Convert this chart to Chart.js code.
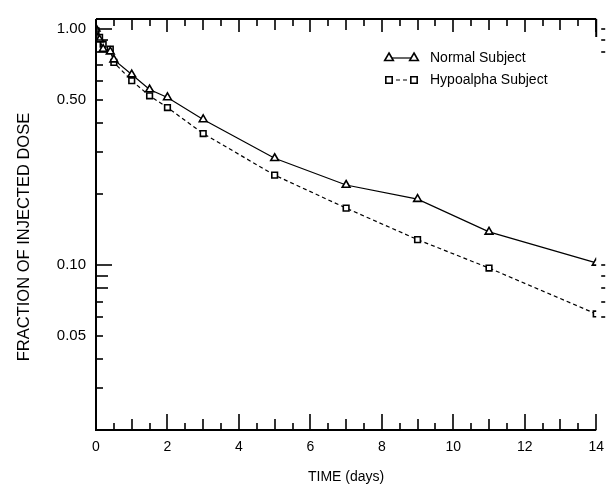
<!DOCTYPE html>
<html>
<head>
<meta charset="utf-8">
<script src="https://cdn.jsdelivr.net/npm/chart.js@4.4.1/dist/chart.umd.min.js"></script>
<style>
  html, body { margin: 0; padding: 0; background: #fff; }
  #wrap { width: 613px; height: 490px; position: relative; }
</style>
</head>
<body>
<div id="wrap"><canvas id="c" width="613" height="490"></canvas></div>
<script>
// ---- data ----
const timeDays = [0, 0.1, 0.2, 0.4, 0.5, 1, 1.5, 2, 3, 5, 7, 9, 11, 14];
const normalSubject = [1.0, 0.9, 0.82, 0.8, 0.74, 0.64, 0.553, 0.512, 0.413, 0.283, 0.218, 0.19, 0.138, 0.102];
const hypoalphaSubject = [0.98, 0.92, 0.86, 0.82, 0.72, 0.603, 0.52, 0.464, 0.36, 0.24, 0.174, 0.128, 0.097, 0.062];
const seriesNames = ['Normal Subject', 'Hypoalpha Subject'];
const yTickLabels = [1.0, 0.5, 0.1, 0.05];
const xTickLabels = [0, 2, 4, 6, 8, 10, 12, 14];
const yMinorTicks = [0.02, 0.03, 0.04, 0.05, 0.06, 0.07, 0.08, 0.09, 0.1, 0.2, 0.3, 0.4, 0.5, 0.6, 0.7, 0.8, 0.9, 1.0];
const xMinorStep = 0.5;
const yTitle = 'FRACTION OF INJECTED DOSE';
const xTitle = 'TIME (days)';

const FONT = "'Liberation Sans', Arial, Helvetica, sans-serif";

const toPts = (vals) => vals.map((v, i) => ({ x: timeDays[i], y: v }));

const frameTicks = {
  id: 'frameTicks',
  afterDraw(chart) {
    const { ctx, chartArea: a, scales } = chart;
    const xs = scales.x, ys = scales.y;
    ctx.save();
    ctx.strokeStyle = '#000';
    ctx.lineCap = 'butt';
    // frame: left, bottom, top
    ctx.lineWidth = 2;
    ctx.beginPath();
    ctx.moveTo(a.left, a.top); ctx.lineTo(a.right, a.top);
    ctx.moveTo(a.left, a.top); ctx.lineTo(a.left, a.bottom);
    ctx.lineTo(a.right, a.bottom);
    ctx.stroke();
    // short right border piece near the top
    ctx.beginPath(); ctx.moveTo(a.right, a.top); ctx.lineTo(a.right, a.top + 18); ctx.stroke();
    // x ticks (bottom and top), inward
    ctx.lineWidth = 1.6;
    for (let t = xMinorStep; t <= 14.001; t += xMinorStep) {
      const px = Math.round(xs.getPixelForValue(t));
      let len = 7;
      if (Math.abs(t - Math.round(t)) < 1e-6) len = (Math.round(t) % 2 === 0) ? 16 : 11;
      ctx.beginPath();
      ctx.moveTo(px, a.bottom); ctx.lineTo(px, a.bottom - len);
      ctx.moveTo(px, a.top); ctx.lineTo(px, a.top + Math.min(len, 13));
      ctx.stroke();
    }
    // y ticks (left, inward; right, short outside dashes)
    yMinorTicks.forEach(v => {
      const py = Math.round(ys.getPixelForValue(v));
      let len = 7;
      if (Math.abs(v - 0.1) < 1e-9 || Math.abs(v - 1) < 1e-9) len = 16;
      else if (v === 0.09 || v === 0.08 || v === 0.9 || v === 0.8) len = 12;
      ctx.beginPath();
      ctx.moveTo(a.left, py); ctx.lineTo(a.left + len, py);
      ctx.stroke();
      if ((v >= 0.06 && v <= 0.1) || v >= 0.8) {
        ctx.beginPath();
        ctx.moveTo(a.right + 5, py); ctx.lineTo(a.right + 9, py);
        ctx.stroke();
      }
    });
    // y title
    ctx.fillStyle = '#000';
    ctx.font = '16.5px ' + FONT;
    ctx.textAlign = 'center';
    ctx.textBaseline = 'middle';
    ctx.save();
    ctx.translate(24, 237);
    ctx.rotate(-Math.PI / 2);
    ctx.fillText(yTitle, 0, 0);
    ctx.restore();
    // legend
    const rows = [
      { name: seriesNames[0], style: 'triangle', dash: [], y: 58, r: 5 },
      { name: seriesNames[1], style: 'rect', dash: [4, 3], y: 80, r: 4.5 }
    ];
    rows.forEach(r => {
      const x1 = 389, x2 = 414;
      ctx.strokeStyle = '#000';
      ctx.lineWidth = 1.2;
      ctx.setLineDash(r.dash);
      ctx.beginPath(); ctx.moveTo(x1, r.y); ctx.lineTo(x2, r.y); ctx.stroke();
      ctx.setLineDash([]);
      ctx.lineWidth = 1.6;
      [x1, x2].forEach(x => {
        ctx.fillStyle = '#fff';
        ctx.strokeStyle = '#000';
        Chart.helpers.drawPoint(ctx, { pointStyle: r.style, radius: r.r, rotation: 0, borderWidth: 1.6 }, x, r.y);
      });
      ctx.fillStyle = '#000';
      ctx.font = '14px ' + FONT;
      ctx.textBaseline = 'middle';
      ctx.textAlign = 'left';
      ctx.fillText(r.name, 430, r.y);
    });
    ctx.restore();
  }
};

new Chart(document.getElementById('c'), {
  type: 'line',
  data: {
    datasets: [
      {
        label: seriesNames[0],
        data: toPts(normalSubject),
        borderColor: '#000',
        borderWidth: 1.2,
        pointStyle: 'triangle',
        pointRadius: 4.5,
        pointBorderWidth: 1.6,
        pointBackgroundColor: '#fff',
        pointBorderColor: '#000',
        tension: 0,
        fill: false
      },
      {
        label: seriesNames[1],
        data: toPts(hypoalphaSubject),
        borderColor: '#000',
        borderWidth: 1.2,
        borderDash: [4, 3],
        pointStyle: 'rect',
        pointRadius: 4,
        pointBorderWidth: 1.6,
        pointBackgroundColor: '#fff',
        pointBorderColor: '#000',
        tension: 0,
        fill: false
      }
    ]
  },
  options: {
    responsive: false,
    animation: false,
    layout: { padding: { left: 0, top: 15, right: 12, bottom: 0 } },
    plugins: { legend: { display: false }, tooltip: { enabled: false } },
    scales: {
      x: {
        type: 'linear',
        min: 0, max: 14,
        afterFit: s => { s.height = 60; },
        afterBuildTicks: s => { s.ticks = xTickLabels.map(v => ({ value: v })); },
        grid: { display: false, drawTicks: false },
        border: { display: false },
        ticks: { color: '#000', font: { family: FONT, size: 14 }, padding: 9, maxRotation: 0, autoSkip: false, callback: v => String(v) },
        title: { display: true, text: xTitle, color: '#000', font: { family: FONT, size: 14 }, padding: { top: 4, bottom: 4 } }
      },
      y: {
        type: 'logarithmic',
        min: 0.02, max: 1.1,
        afterFit: s => { s.width = 96; },
        afterBuildTicks: s => { s.ticks = yTickLabels.map(v => ({ value: v })); },
        grid: { display: false, drawTicks: false },
        border: { display: false },
        ticks: { color: '#000', font: { family: FONT, size: 15 }, padding: 10, autoSkip: false, callback: v => Number(v).toFixed(2) },
        title: { display: false }
      }
    }
  },
  plugins: [frameTicks]
});
</script>
</body>
</html>
